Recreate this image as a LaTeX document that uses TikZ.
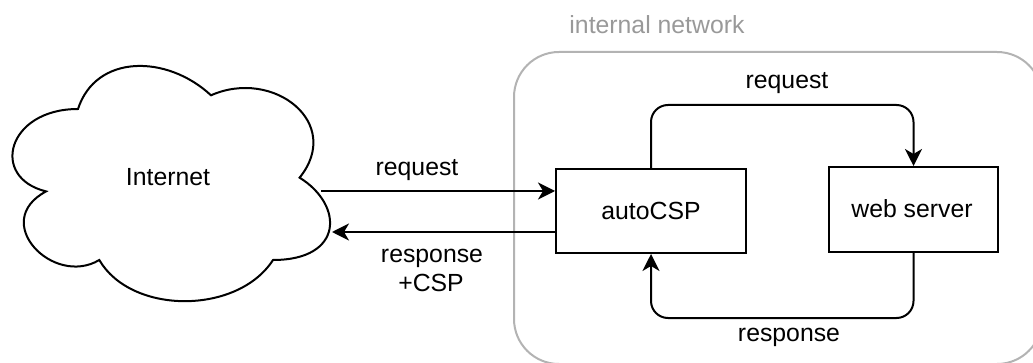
\documentclass[tikz,border=0pt]{standalone}
\usepackage{fontspec}
\setmainfont{Liberation Sans}
\usetikzlibrary{arrows.meta}
\definecolor{netgray}{HTML}{B3B3B3}
\definecolor{labelgray}{HTML}{999999}
\tikzset{
  box/.style={draw=black, line width=2pt, inset sep=0pt, inner sep=0pt, fill=white},
  arr/.style={draw=black, line width=2pt, -{Stealth[length=17pt,width=17pt,inset=5pt]}},
  lbl/.style={anchor=base, inner sep=0pt, font=\fontsize{24.8}{29}\selectfont},
  container/.style={draw=netgray, line width=2pt, rounded corners=45pt, inner sep=0pt},
}
\tikzset{inset sep/.code={}}
\begin{document}
\begin{tikzpicture}[x=1pt,y=-1pt]
\useasboundingbox (0,0) rectangle (1033,363);
\begin{scope}
\clip (0,0) rectangle (1033,363);
\node[container, minimum width=528pt, minimum height=312pt] (net) at (778,208) {};
\end{scope}
\node[lbl, text=labelgray] (netlbl) at (657,34) {internal network};
% cloud (draw.io cloud shape)
\draw[line width=2pt, fill=white] (78.0,109.0)
  .. controls (7.1,109.0) and (-10.6,177.65) .. (46.1,191.4)
  .. controls (-10.6,221.6) and (53.2,287.5) .. (99.3,260.0)
  .. controls (131.2,314.9) and (237.6,314.9) .. (273.0,260.0)
  .. controls (343.9,260.0) and (343.9,205.1) .. (299.6,177.65)
  .. controls (343.9,122.75) and (273.0,67.85) .. (211.0,95.3)
  .. controls (166.65,54.1) and (95.75,54.1) .. (78.0,109.0) -- cycle;
\node[lbl] (internet) at (168,186) {Internet};
\coordinate (cloudout) at (321,191);
\coordinate (cloudin) at (332,232);
% boxes
\node[box, minimum width=190pt, minimum height=84pt] (auto) at (651,211) {};
\node[lbl] (autolbl) at (651,220) {autoCSP};
\node[box, minimum width=169pt, minimum height=85pt] (web) at (913.5,209.5) {};
\node[lbl] (weblbl) at (912,218) {web server};
% connectors
\draw[arr] (cloudout) -- (cloudout -| auto.west);
\draw[arr] (cloudin -| auto.west) -- (cloudin);
\draw[arr, rounded corners=17pt] (auto.north) -- ++(0,-63) -| (web.north);
\draw[arr, rounded corners=17pt] (web.south) -- ++(0,65) -| (auto.south);
% labels
\node[lbl] (reqL) at (417,176) {request};
\node[lbl, align=center] (respL) at (432,262) {response};
\node[lbl] (cspL) at (431,291) {+CSP};
\node[lbl] (reqT) at (787,89) {request};
\node[lbl] (respB) at (789,341) {response};
\end{tikzpicture}
\end{document}
